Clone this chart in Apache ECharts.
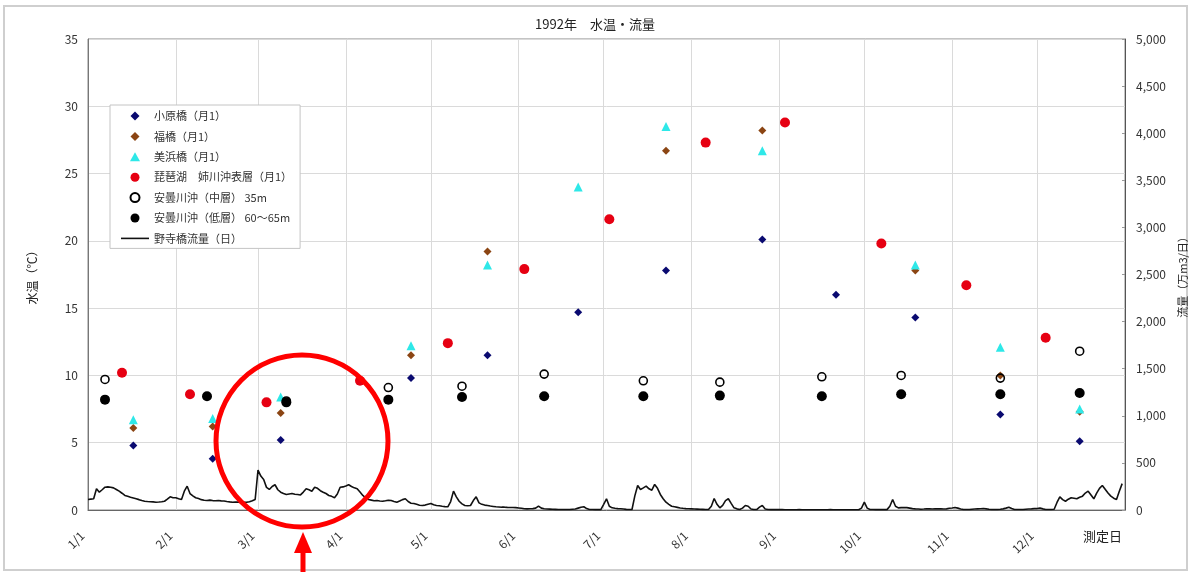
<!DOCTYPE html>
<html><head><meta charset="utf-8">
<script src="https://cdn.jsdelivr.net/npm/echarts@6/dist/echarts.min.js"></script>
<style>html,body{margin:0;padding:0;background:#fff}#c{width:1190px;height:572px}</style>
</head><body><div id="c"></div>
<script>
const YEAR = 1992;
const FONT = "'Noto Sans CJK JP','Noto Sans',sans-serif";

// x-axis tick labels (month starts)
const monthTickLabels = ['1/1','2/1','3/1','4/1','5/1','6/1','7/1','8/1','9/1','10/1','11/1','12/1'];

// monthly water temperature (℃)
const oharaDates  = ['1/17','2/14','3/9','4/24','5/21','6/22','7/23','8/26','9/21','10/19','11/18','12/16'];
const oharaTemp   = [4.8,3.8,5.2,9.8,11.5,14.7,17.8,20.1,16.0,14.3,7.1,5.1];
const fukuDates   = ['1/17','2/14','3/9','4/24','5/21','7/23','8/26','10/19','11/18','12/16'];
const fukuTemp    = [6.1,6.2,7.2,11.5,19.2,26.7,28.2,17.8,10.0,7.3];
const mihamaDates = ['1/17','2/14','3/9','4/24','5/21','6/22','7/23','8/26','10/19','11/18','12/16'];
const mihamaTemp  = [6.7,6.8,8.4,12.2,18.2,24.0,28.5,26.7,18.2,12.1,7.5];
const biwaDates   = ['1/13','2/6','3/4','4/6','5/7','6/3','7/3','8/6','9/3','10/7','11/6','12/4'];
const biwaTemp    = [10.2,8.6,8.0,9.6,12.4,17.9,21.6,27.3,28.8,19.8,16.7,12.8];
const midDates    = ['1/7','3/11','4/16','5/12','6/10','7/15','8/11','9/16','10/14','11/18','12/16'];
const midTemp     = [9.7,8.1,9.1,9.2,10.1,9.6,9.5,9.9,10.0,9.8,11.8];
const lowDates    = ['1/7','2/12','3/11','4/16','5/12','6/10','7/15','8/11','9/16','10/14','11/18','12/16'];
const lowTemp     = [8.2,8.45,8.0,8.2,8.4,8.45,8.45,8.5,8.45,8.6,8.6,8.7];

// daily flow at 野寺橋 (万m3/日), one array per month
const flowJan = [111,115,119,225,189,215,242,245,242,235,218,200,178,154,145,135,127,119,110,100,93,90,88,86,83,85,88,93,115,140,130];
const flowFeb = [130,120,111,200,253,175,150,130,122,110,103,101,105,100,98,101,97,95,90,86,83,85,84,82,83,83,88,98,111];
const flowMar = [423,360,324,240,218,250,268,215,189,175,165,170,175,168,165,160,190,225,215,200,242,230,205,189,175,154,145,130,170,242,245];
const flowApr = [255,268,250,235,225,190,154,130,111,105,98,100,96,93,98,104,100,90,83,95,110,119,90,72,69,60,50,48,52,62];
const flowMay = [69,55,48,45,40,36,34,90,200,140,93,65,48,45,48,100,140,76,60,52,48,42,38,34,32,30,30,28,27,27,25];
const flowJun = [22,18,13,12,14,15,20,41,20,13,10,9,8,7,6,5,5,5,6,8,10,20,30,34,15,5,5,4,4,4];
const flowJul = [60,119,40,23,18,15,13,10,7,5,5,150,260,218,235,253,225,210,271,230,165,120,83,60,40,34,28,22,18,15,13];
const flowAug = [12,10,9,8,7,6,5,40,122,60,23,50,100,119,70,23,12,5,20,48,40,10,5,5,30,48,10,5,4,4,4];
const flowSep = [4,4,3,3,3,3,3,4,3,3,3,3,3,3,3,3,3,3,4,3,3,3,3,3,3,3,3,3,3,20];
const flowOct = [83,20,5,5,4,4,4,4,4,40,111,40,23,25,27,25,20,15,12,10,8,10,13,12,10,12,13,12,10,12,18];
const flowNov = [22,27,20,10,5,5,6,8,10,12,14,16,12,8,5,5,6,8,12,20,30,15,5,5,5,6,8,10,12,15];
const flowDec = [15,20,12,5,5,5,8,80,140,110,93,115,130,125,119,135,147,180,200,160,119,180,230,260,220,180,147,125,111,200,280];

function dayOfYear(md) {
  const p = md.split('/').map(Number);
  return (Date.UTC(YEAR, p[0]-1, p[1]) - Date.UTC(YEAR, 0, 1)) / 86400000;
}
function pairs(dates, vals) { return dates.map((d, i) => [dayOfYear(d), vals[i]]); }

const flowAll = [].concat(flowJan,flowFeb,flowMar,flowApr,flowMay,flowJun,flowJul,flowAug,flowSep,flowOct,flowNov,flowDec);
const flowData = flowAll.map((v, i) => [i, v]);
const monthDays = monthTickLabels.map(dayOfYear);
const labelByDay = {};
monthTickLabels.forEach((l, i) => { labelByDay[monthDays[i]] = l; });

const ICON_DIAMOND = 'path://M5,0L10,5L5,10L0,5Z';
const ICON_TRIANGLE = 'path://M5,0L10,9L0,9Z';
const ICON_LINE = 'path://M0,0H28V1.6H0Z';

const chart = echarts.init(document.getElementById('c'));
chart.setOption({
  animation: false,
  backgroundColor: '#fff',
  textStyle: { fontFamily: FONT },
  title: {
    text: '1992年　水温・流量', left: 'center', top: 13,
    textStyle: { fontSize: 13, fontWeight: 'normal', color: '#222', fontFamily: FONT }
  },
  grid: { left: 88, right: 65, top: 39, bottom: 62, show: true, borderColor: '#888', borderWidth: 1,
          containLabel: false, outerBoundsMode: 'none' },
  legend: {
    orient: 'vertical', left: 110, top: 105,
    padding: [5, 8, 4, 11],
    itemWidth: 28, itemHeight: 9, itemGap: 8.4,
    backgroundColor: '#fff', borderColor: '#c4c4c4', borderWidth: 1,
    textStyle: { fontSize: 11, color: '#333', lineHeight: 12, fontFamily: FONT },
    data: [
      { name: '小原橋（月1）', icon: ICON_DIAMOND },
      { name: '福橋（月1）', icon: ICON_DIAMOND },
      { name: '美浜橋（月1）', icon: ICON_TRIANGLE },
      { name: '琵琶湖　姉川沖表層（月1）', icon: 'circle' },
      { name: '安曇川沖（中層） 35m', icon: 'circle' },
      { name: '安曇川沖（低層） 60～65m', icon: 'circle' },
      { name: '野寺橋流量（日）', icon: ICON_LINE }
    ]
  },
  xAxis: {
    type: 'value', min: 0, max: 366,
    name: '測定日', nameLocation: 'end', nameGap: -42,
    nameTextStyle: { fontSize: 13, color: '#222', verticalAlign: 'top', padding: [20, 0, 0, 0], fontFamily: FONT },
    axisLine: { show: true, lineStyle: { color: '#666', width: 1 } },
    axisTick: { show: false, customValues: monthDays },
    axisLabel: {
      customValues: monthDays, rotate: 45, margin: 18, padding: [0, 8, 0, 0], fontSize: 12, color: '#333',
      formatter: v => labelByDay[v] || ''
    },
    splitLine: { show: true, lineStyle: { color: '#dadada', width: 1 } }
  },
  yAxis: [
    {
      type: 'value', min: 0, max: 35, interval: 5,
      name: '水温（℃）', nameLocation: 'middle', nameRotate: 90, nameGap: 50,
      nameTextStyle: { fontSize: 12, color: '#222', fontFamily: FONT },
      axisLine: { show: true, lineStyle: { color: '#777' } },
      axisTick: { show: false },
      axisLabel: { fontSize: 12, color: '#333', margin: 10 },
      splitLine: { show: true, lineStyle: { color: '#dadada', width: 1 } }
    },
    {
      type: 'value', min: 0, max: 5000, interval: 500, position: 'right',
      name: '流量（万m3/日）', nameLocation: 'middle', nameRotate: 90, nameGap: 47,
      nameTextStyle: { fontSize: 11, color: '#222', fontFamily: FONT },
      axisLine: { show: true, lineStyle: { color: '#555' } },
      axisTick: { show: true, inside: true, length: 3, lineStyle: { color: '#999' } },
      axisLabel: { fontSize: 12, color: '#333', margin: 11, formatter: v => v.toLocaleString('en-US') },
      splitLine: { show: false }
    }
  ],
  series: [
    { name: '野寺橋流量（日）', type: 'line', yAxisIndex: 1, data: flowData, symbol: 'none',
      lineStyle: { color: '#111', width: 1.6 }, itemStyle: { color: '#111' }, z: 1 },
    { name: '小原橋（月1）', type: 'scatter', data: pairs(oharaDates, oharaTemp), symbol: 'diamond', symbolSize: 8,
      itemStyle: { color: '#0a0a70', opacity: 1 }, z: 3 },
    { name: '福橋（月1）', type: 'scatter', data: pairs(fukuDates, fukuTemp), symbol: 'diamond', symbolSize: 8,
      itemStyle: { color: '#8b4513', opacity: 1 }, z: 3 },
    { name: '美浜橋（月1）', type: 'scatter', data: pairs(mihamaDates, mihamaTemp), symbol: 'triangle', symbolSize: 9,
      itemStyle: { color: '#2ee8e8', opacity: 1 }, z: 3 },
    { name: '琵琶湖　姉川沖表層（月1）', type: 'scatter', data: pairs(biwaDates, biwaTemp), symbol: 'circle', symbolSize: 10,
      itemStyle: { color: '#e60012', opacity: 1 }, z: 3 },
    { name: '安曇川沖（中層） 35m', type: 'scatter', data: pairs(midDates, midTemp), symbol: 'circle', symbolSize: 8,
      itemStyle: { color: 'rgba(255,255,255,0)', borderColor: '#000', borderWidth: 1.6, opacity: 1 }, z: 3 },
    { name: '安曇川沖（低層） 60～65m', type: 'scatter', data: pairs(lowDates, lowTemp), symbol: 'circle', symbolSize: 10,
      itemStyle: { color: '#000', opacity: 1 }, z: 3 }
  ],
  graphic: [
    { type: 'rect', shape: { x: 4, y: 6, width: 1183, height: 564 }, silent: true,
      style: { fill: 'none', stroke: '#cfcfcf', lineWidth: 2 }, z: 0 },
    { type: 'circle', shape: { cx: 302, cy: 441, r: 86 }, silent: true,
      style: { fill: 'none', stroke: '#ff0000', lineWidth: 5 }, z: 100 },
    { type: 'polygon', shape: { points: [[303, 532], [294, 553], [312, 553]] }, silent: true,
      style: { fill: '#ff0000' }, z: 100 },
    { type: 'line', shape: { x1: 303, y1: 550, x2: 303, y2: 572 }, silent: true,
      style: { stroke: '#ff0000', lineWidth: 5 }, z: 100 }
  ]
});
</script>
</body></html>
